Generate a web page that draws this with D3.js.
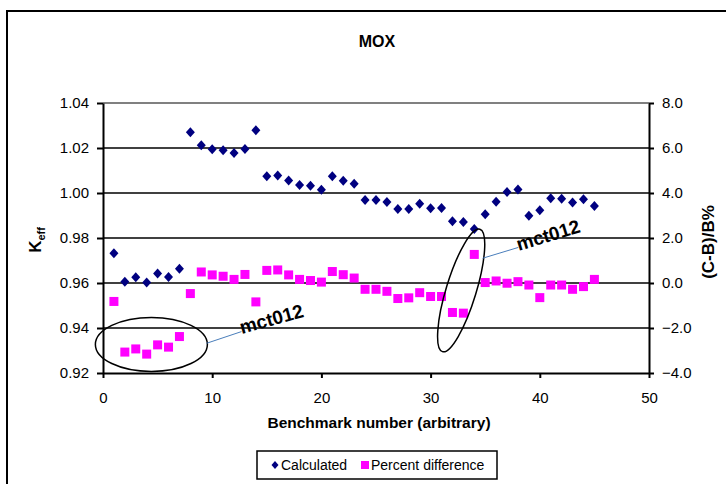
<!DOCTYPE html>
<html>
<head>
<meta charset="utf-8">
<script src="https://cdn.jsdelivr.net/npm/d3@7"></script>
<style>
  body { margin: 0; background: #fff; }
  #chart { width: 726px; height: 484px; }
  text { font-family: Arial, "Liberation Sans", sans-serif; fill: #000; }
</style>
</head>
<body>
<div id="chart"></div>
<script>
// benchmark numbers (x) and the two series
const benchmark = [1, 2, 3, 4, 5, 6, 7, 8, 9, 10, 11, 12, 13, 14, 15, 16, 17, 18, 19, 20,
    21, 22, 23, 24, 25, 26, 27, 28, 29, 30, 31, 32, 33, 34, 35, 36, 37, 38, 39, 40,
    41, 42, 43, 44, 45];

const calculated = [0.9732, 0.9606, 0.9626, 0.9602, 0.9642, 0.9627, 0.9663, 1.0270, 1.0212, 1.0195,
    1.0190, 1.0178, 1.0196, 1.0279, 1.0075, 1.0078, 1.0056, 1.0036, 1.0032, 1.0014,
    1.0075, 1.0054, 1.0041, 0.9969, 0.9969, 0.9960, 0.9929, 0.9929, 0.9952, 0.9932,
    0.9933, 0.9875, 0.9871, 0.9840, 0.9906, 0.9961, 1.0004, 1.0016, 0.9899, 0.9923,
    0.9977, 0.9975, 0.9958, 0.9972, 0.9942];

const percentDiff = [-0.82, -3.07, -2.93, -3.16, -2.75, -2.85, -2.38, -0.47, 0.49, 0.36,
    0.30, 0.16, 0.38, -0.84, 0.56, 0.58, 0.36, 0.16, 0.11, 0.04,
    0.51, 0.37, 0.22, -0.28, -0.28, -0.37, -0.69, -0.66, -0.43, -0.60,
    -0.60, -1.31, -1.34, 1.27, 0.02, 0.09, -0.01, 0.06, -0.09, -0.65,
    -0.09, -0.09, -0.28, -0.16, 0.16];

// axis ticks
const xTicks = [0, 10, 20, 30, 40, 50];
const leftTicks = [0.92, 0.94, 0.96, 0.98, 1.00, 1.02, 1.04];
const rightTicks = [-4, -2, 0, 2, 4, 6, 8];

const seriesNames = ["Calculated", "Percent difference"];

const width = 726, height = 484;
const margin = ({ top: 103, right: 77, bottom: 111, left: 103 });

const svg = d3.select("#chart")
    .append("svg")
    .attr("width", width)
    .attr("height", height);

// chart frame (cut off at right and bottom like the source)
svg.append("rect")
    .attr("x", 7).attr("y", 11)
    .attr("width", 740).attr("height", 500)
    .attr("fill", "none")
    .attr("stroke", "#000")
    .attr("stroke-width", 2);

const x = d3.scaleLinear().domain([0, 50]).range([margin.left, width - margin.right]);
const yL = d3.scaleLinear().domain([0.92, 1.04]).range([height - margin.bottom, margin.top]);
const yR = d3.scaleLinear().domain([-4, 8]).range([height - margin.bottom, margin.top]);

// gridlines
svg.append("g").selectAll("line")
    .data(leftTicks.slice(1))
    .enter().append("line")
    .attr("x1", x(0)).attr("x2", x(50))
    .attr("y1", d => yL(d)).attr("y2", d => yL(d))
    .attr("stroke", d => d === 1.04 ? "#808080" : "#000")
    .attr("stroke-width", d => d === 1.04 ? 2 : 1.5);

// axes
const fmtL = d3.format(".2f"), fmtR = d3.format(".1f");

const axL = svg.append("g")
    .attr("transform", `translate(${x(0)},0)`)
    .call(d3.axisLeft(yL).tickValues(leftTicks).tickFormat(fmtL).tickSize(6).tickPadding(8).tickSizeOuter(0));

const axR = svg.append("g")
    .attr("transform", `translate(${x(50)},0)`)
    .call(d3.axisRight(yR).tickValues(rightTicks).tickFormat(fmtR).tickSize(5).tickPadding(8).tickSizeOuter(0));

const axB = svg.append("g")
    .attr("transform", `translate(0,${yL(0.92)})`)
    .call(d3.axisBottom(x).tickValues(xTicks).tickFormat(d3.format("d")).tickSize(5).tickPadding(14).tickSizeOuter(0));

[axL, axR, axB].forEach(function (g) {
    g.select(".domain").attr("stroke", "#000").attr("stroke-width", 2);
    g.selectAll(".tick line").attr("stroke", "#000").attr("stroke-width", 2);
    g.selectAll(".tick text").style("font-size", "15px").attr("fill", "#000");
});

// title and axis labels
svg.append("text")
    .attr("x", 377).attr("y", 47)
    .attr("text-anchor", "middle")
    .style("font-size", "16px").style("font-weight", "bold")
    .text("MOX");

svg.append("text")
    .attr("x", 379).attr("y", 428)
    .attr("text-anchor", "middle")
    .style("font-size", "15.5px").style("font-weight", "bold")
    .text("Benchmark number (arbitrary)");

const kLabel = svg.append("text")
    .attr("transform", "translate(41,240) rotate(-90)")
    .attr("text-anchor", "middle")
    .style("font-size", "17px").style("font-weight", "bold");
kLabel.append("tspan").text("K");
kLabel.append("tspan").attr("dy", 4).style("font-size", "11px").text("eff");

svg.append("text")
    .attr("transform", "translate(714,242) rotate(-90)")
    .attr("text-anchor", "middle")
    .style("font-size", "17px").style("font-weight", "bold")
    .text("(C-B)/B%");

// markers
const diamond = "M0,-5L4.5,0L0,5L-4.5,0Z";

svg.append("g").selectAll("rect")
    .data(benchmark)
    .enter().append("rect")
    .attr("x", (d, i) => x(d) - 4.5)
    .attr("y", (d, i) => yR(percentDiff[i]) - 4.5)
    .attr("width", 9).attr("height", 9)
    .attr("fill", "#ff00ff");

svg.append("g").selectAll("path")
    .data(benchmark)
    .enter().append("path")
    .attr("d", diamond)
    .attr("transform", (d, i) => `translate(${x(d)},${yL(calculated[i])})`)
    .attr("fill", "#000080");

// annotations: ellipses around mct012 points with leader lines
const ann = svg.append("g");

ann.append("ellipse")
    .attr("cx", x(4.43)).attr("cy", yL(0.9327))
    .attr("rx", 56).attr("ry", 27)
    .attr("fill", "none").attr("stroke", "#000").attr("stroke-width", 1.5);

ann.append("ellipse")
    .attr("transform", `translate(${x(32.8)},${yR(-0.33)}) rotate(17)`)
    .attr("rx", 15).attr("ry", 64)
    .attr("fill", "none").attr("stroke", "#000").attr("stroke-width", 1.5);

ann.append("line")
    .attr("x1", x(9.48)).attr("y1", yL(0.9332))
    .attr("x2", x(12.68)).attr("y2", yL(0.9384))
    .attr("stroke", "#4a7ebb").attr("stroke-width", 1);

ann.append("line")
    .attr("x1", x(34.76)).attr("y1", yR(1.10))
    .attr("x2", x(38.03)).attr("y2", yR(1.58))
    .attr("stroke", "#4a7ebb").attr("stroke-width", 1);

ann.append("text")
    .attr("transform", `translate(${x(12.7)},${yL(0.9373)}) rotate(-15.5)`)
    .style("font-size", "19px").style("font-weight", "bold")
    .text("mct012");

ann.append("text")
    .attr("transform", `translate(${x(38.07)},${yR(1.42)}) rotate(-17)`)
    .style("font-size", "19px").style("font-weight", "bold")
    .text("mct012");

// legend
const legend = svg.append("g");
legend.append("rect")
    .attr("x", 257).attr("y", 451)
    .attr("width", 240).attr("height", 28)
    .attr("fill", "#fff").attr("stroke", "#000").attr("stroke-width", 1.5);

legend.append("path")
    .attr("d", "M0,-4L3.5,0L0,4L-3.5,0Z")
    .attr("transform", "translate(275,465)")
    .attr("fill", "#000080");
legend.append("text")
    .attr("x", 281).attr("y", 470)
    .style("font-size", "14px")
    .text(seriesNames[0]);

legend.append("rect")
    .attr("x", 361).attr("y", 461)
    .attr("width", 8).attr("height", 8)
    .attr("fill", "#ff00ff");
legend.append("text")
    .attr("x", 371).attr("y", 470)
    .style("font-size", "14px")
    .text(seriesNames[1]);
</script>
</body>
</html>
